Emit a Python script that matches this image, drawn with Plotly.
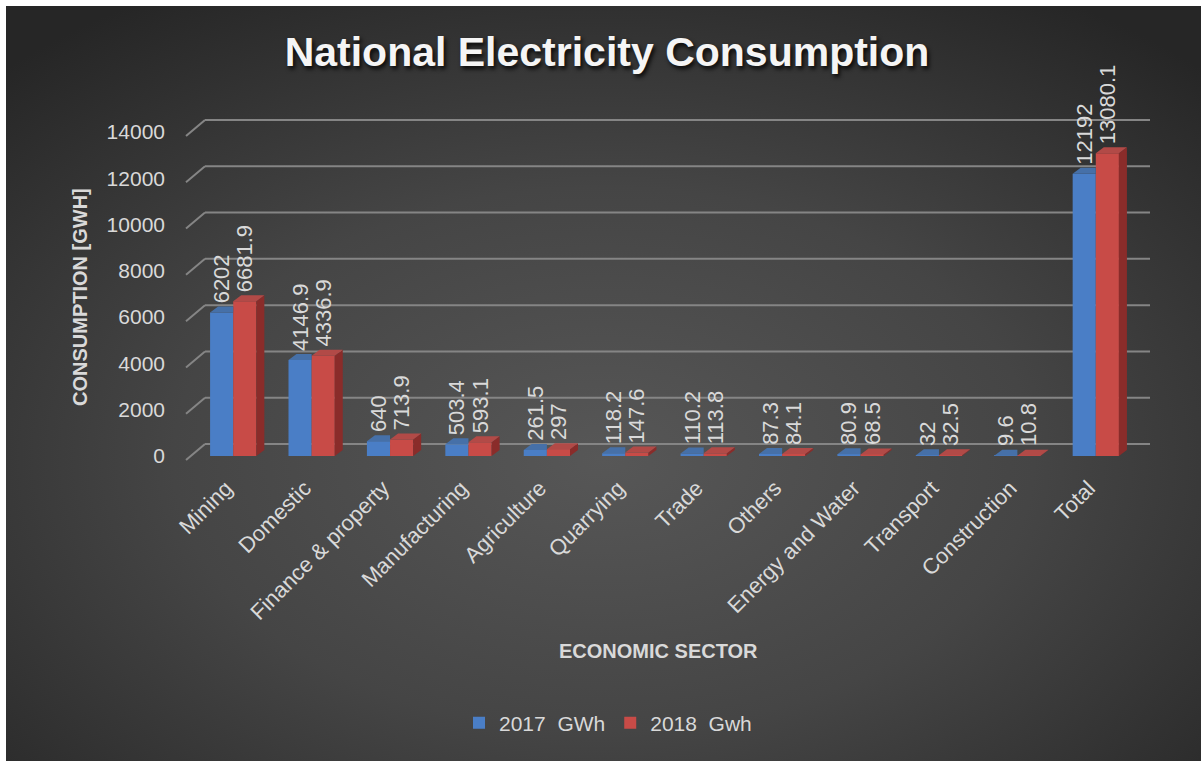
import base64
import plotly.graph_objects as go

# ---------------- data ----------------
categories = ["Mining", "Domestic", "Finance & property", "Manufacturing", "Agriculture",
              "Quarrying", "Trade", "Others", "Energy and Water", "Transport",
              "Construction", "Total"]
values_2017 = [6202, 4146.9, 640, 503.4, 261.5, 118.2, 110.2, 87.3, 80.9, 32, 9.6, 12192]
values_2018 = [6681.9, 4336.9, 713.9, 593.1, 297, 147.6, 113.8, 84.1, 68.5, 32.5, 10.8, 13080.1]
series_names = ["2017  GWh", "2018  Gwh"]
y_ticks = [0, 2000, 4000, 6000, 8000, 10000, 12000, 14000]
y_tick_labels = [str(v) for v in y_ticks]

# ---------------- layout geometry ----------------
W, H = 1203, 761
L, R, T, B = 194, 68, 132, 305
PW, PH = W - L - R, H - T - B
YMAX = 14000
BARGAP = 0.41
bar_w = (1 - BARGAP) / 2
depth_px = (8, 6)                       # 3-D depth of bars (px right, px up)
dx = depth_px[0] / (PW / len(categories))
dy = depth_px[1] / PH * YMAX

blue, blue_top = "#4a7ec6", "#4670a8"
red, red_top, red_side = "#c84b47", "#b24a47", "#8a2c2a"
txt = "#d9d9d9"
grid = "#858585"
FONT = "Liberation Sans, Arial, sans-serif"

x_pos = list(range(len(categories)))

fig = go.Figure()
for name, vals, col in [(series_names[0], values_2017, blue), (series_names[1], values_2018, red)]:
    fig.add_trace(go.Bar(
        name=name, x=x_pos, y=vals, marker=dict(color=col, line=dict(width=0)),
        text=["\u00a0" + f"{v:g}" for v in vals], textposition="outside", textangle=-90,
        constraintext="none", cliponaxis=False,
        textfont=dict(family=FONT, size=22, color=txt),
        hoverinfo="skip"))

# 3-D faces derived from the values through the data axes
def faces(vals, offset, kind, clip=False):
    xs, ys = [], []
    for i, v in zip(x_pos, vals):
        xl = i + offset
        xr = xl + bar_w
        if kind == "top":
            if clip:
                xs += [xl, xr, xr, xl + dx, xl, None]
            else:
                xs += [xl, xr, xr + dx, xl + dx, xl, None]
            ys += [v, v, v + dy, v + dy, v, None]
        else:
            xs += [xr, xr, xr + dx, xr + dx, xr, None]
            ys += [0, v, v + dy, dy, 0, None]
    return xs, ys

for vals, off, kind, col, clip in [
        (values_2017, -bar_w, "top", blue_top, True),
        (values_2018, 0, "side", red_side, False),
        (values_2018, 0, "top", red_top, False)]:
    xs, ys = faces(vals, off, kind, clip)
    fig.add_trace(go.Scatter(x=xs, y=ys, mode="lines", fill="toself", fillcolor=col,
                             line=dict(width=0), showlegend=False, hoverinfo="skip",
                             cliponaxis=False))

# back-wall gridlines with perspective ticks (paper refs so they are not clipped)
shapes = []
for v in y_ticks:
    shapes.append(dict(type="line", xref="paper", x0=11 / PW, x1=1 + 15 / PW,
                       yref="paper", ysizemode="pixel", yanchor=v / YMAX, y0=12, y1=12,
                       line=dict(color=grid, width=2), layer="below"))
    shapes.append(dict(type="line", xref="paper", xsizemode="pixel", xanchor=0, x0=-8, x1=11,
                       yref="paper", ysizemode="pixel", yanchor=v / YMAX, y0=-4, y1=12,
                       line=dict(color=grid, width=2), layer="below"))

# radial gradient background
svg = ('<svg xmlns="http://www.w3.org/2000/svg" width="1195" height="755" viewBox="0 0 1195 755" '
       'preserveAspectRatio="none"><defs><radialGradient id="g" cx="0.5" cy="0.6" r="0.72">'
       '<stop offset="0" stop-color="#575757"/><stop offset="0.5" stop-color="#454545"/>'
       '<stop offset="1" stop-color="#262626"/></radialGradient></defs>'
       '<rect width="1195" height="755" fill="url(#g)"/></svg>')
bg_src = "data:image/svg+xml;base64," + base64.b64encode(svg.encode()).decode()

fig.update_layout(
    width=W, height=H, autosize=False,
    margin=dict(l=L, r=R, t=T, b=B, pad=0),
    paper_bgcolor="white", plot_bgcolor="rgba(0,0,0,0)",
    barmode="group", bargap=BARGAP, bargroupgap=0,
    images=[dict(source=bg_src, xref="paper", yref="paper",
                 x=(6 - L) / PW, y=(H - B - 6) / PH, sizex=1195 / PW, sizey=755 / PH,
                 xanchor="left", yanchor="top", sizing="stretch", layer="below")],
    shapes=shapes,
    title=dict(text="National Electricity Consumption", x=607 / W, xref="container",
               y=1 - 52 / H, yref="container", xanchor="center", yanchor="middle",
               font=dict(family=FONT, size=41, color="#f5f5f5",
                         weight="bold", shadow="2px 3px 4px rgba(0,0,0,0.85)")),
    xaxis=dict(range=[-0.5, len(categories) - 0.5], tickvals=x_pos, ticktext=categories,
               tickangle=-45, showgrid=False, zeroline=False, showline=False, ticks="",
               ticklabelstandoff=14, ticklabelshift=-7,
               tickfont=dict(family=FONT, size=22, color=txt)),
    yaxis=dict(range=[0, YMAX], tickvals=y_ticks, ticktext=y_tick_labels, showgrid=False,
               zeroline=False, showline=False, ticks="", ticklabelstandoff=28,
               tickfont=dict(family=FONT, size=21, color=txt)),
    legend=dict(orientation="h", x=(608 - L) / PW, xanchor="center", y=(H - B - 723) / PH,
                yanchor="middle", bgcolor="rgba(0,0,0,0)",
                font=dict(family=FONT, size=21, color=txt),
                itemwidth=30),
    annotations=[
        dict(text="<b>CONSUMPTION [GWH]</b>", xref="paper", yref="paper",
             x=(80 - L) / PW, y=(H - B - 297) / PH, textangle=-90, showarrow=False,
             xanchor="center", yanchor="middle",
             font=dict(family=FONT, size=20, color=txt)),
        dict(text="<b>ECONOMIC SECTOR</b>", xref="paper", yref="paper",
             x=(658 - L) / PW, y=(H - B - 651) / PH, showarrow=False,
             xanchor="center", yanchor="middle",
             font=dict(family=FONT, size=20, color=txt)),
    ],
)

fig.write_html("out.html", config={"displayModeBar": False},
               post_script="document.body.style.margin='0';document.body.style.overflow='hidden';")
